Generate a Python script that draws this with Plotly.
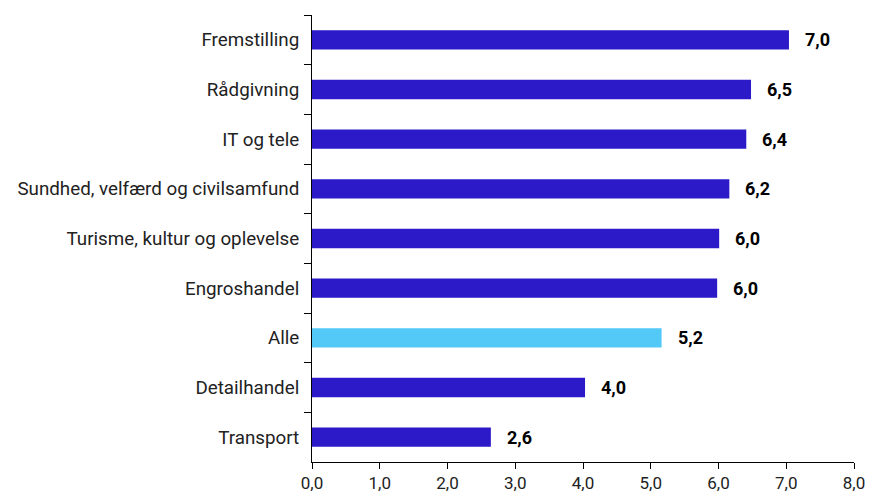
import plotly.graph_objects as go

categories = ["Fremstilling", "Rådgivning", "IT og tele", "Sundhed, velfærd og civilsamfund",
              "Turisme, kultur og oplevelse", "Engroshandel", "Alle", "Detailhandel", "Transport"]
values = [7.04, 6.48, 6.41, 6.16, 6.01, 5.98, 5.16, 4.03, 2.64]
labels = ["7,0", "6,5", "6,4", "6,2", "6,0", "6,0", "5,2", "4,0", "2,6"]
tick_vals = [0, 1, 2, 3, 4, 5, 6, 7, 8]
tick_text = ["0,0", "1,0", "2,0", "3,0", "4,0", "5,0", "6,0", "7,0", "8,0"]

DARK = "#2C1AC9"
LIGHT = "#52C9F7"
colors = [LIGHT if c == "Alle" else DARK for c in categories]

fig = go.Figure()
fig.add_trace(go.Bar(
    y=categories, x=values, orientation="h",
    marker=dict(color=colors, line=dict(width=0)),
    width=0.39, hoverinfo="skip",
))

for c, v, t in zip(categories, values, labels):
    fig.add_annotation(x=v, y=c, text="<b>" + t + "</b>", showarrow=False,
                       xanchor="left", xshift=14,
                       font=dict(size=18, color="#000000", family="Roboto"))

# the page body has an 8px margin, so margins are offset to place the plot area
fig.update_layout(
    width=873, height=494,
    margin=dict(l=304, r=27, t=7, b=40, autoexpand=False),
    plot_bgcolor="white", paper_bgcolor="white",
    showlegend=False,
    font=dict(family="Roboto", size=18, color="#222222"),
)
fig.update_xaxes(range=[0, 8], tickvals=tick_vals, ticktext=tick_text,
                 showline=True, linecolor="#000000", linewidth=1,
                 ticks="outside", ticklen=6, tickcolor="#000000",
                 showgrid=False, zeroline=False, fixedrange=True, automargin=False,
                 tickfont=dict(size=17))
fig.update_yaxes(autorange="reversed", showline=True, linecolor="#000000", linewidth=1,
                 ticks="outside", ticklen=7, tickcolor="#000000", tickson="boundaries",
                 showgrid=False, zeroline=False, ticklabelstandoff=8, automargin=False,
                 tickfont=dict(size=18.8))

fig.write_html("out.html")
